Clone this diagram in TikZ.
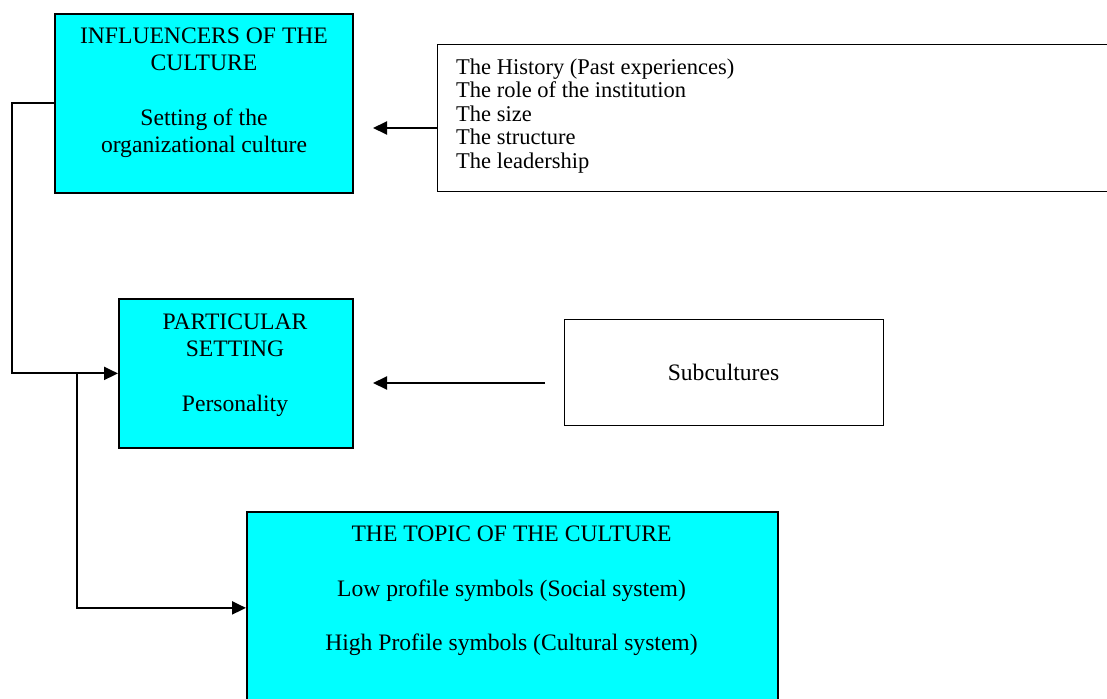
\documentclass[tikz,border=0pt]{standalone}
\usepackage{fontspec}
\setmainfont{Liberation Serif}
\usetikzlibrary{arrows.meta}
\definecolor{aqua}{HTML}{00FFFF}
\begin{document}
\begin{tikzpicture}[x=1pt,y=-1pt,
  cbox/.style={draw=black,line width=1.8pt,fill=aqua,inner sep=0pt,anchor=north west},
  wbox/.style={draw=black,line width=1.3pt,fill=white,inner sep=0pt,anchor=north west},
  bigtxt/.style={font=\fontsize{23.6}{27.3}\selectfont,align=center,inner sep=0pt},
  smalltxt/.style={font=\fontsize{22.5}{23.5}\selectfont,align=left,inner sep=0pt},
  conn/.style={line width=2pt,-{Triangle[length=14pt,width=13pt]}},
  plain/.style={line width=2pt}]
\useasboundingbox (0,0) rectangle (1107,698);
\begin{scope}
\clip (0,0) rectangle (1107,698);
% boxes
\node[cbox,minimum width=298pt,minimum height=179pt] (b1) at (54,13) {};
\node[wbox,minimum width=675pt,minimum height=147pt] (b3) at (437,44) {};
\node[cbox,minimum width=234pt,minimum height=149pt] (b2) at (118,298) {};
\node[wbox,minimum width=319pt,minimum height=106pt] (sub) at (564,319) {};
\node[cbox,minimum width=531pt,minimum height=192pt] (b4) at (246,511) {};
% texts
\node[bigtxt] (t1) at (204,93) {INFLUENCERS OF THE\\CULTURE\\[27.3pt]Setting of the\\organizational culture};
\node[bigtxt] (t2) at (235,365) {PARTICULAR\\SETTING\\[27.3pt]Personality};
\node[bigtxt] (t4) at (511.5,591) {THE TOPIC OF THE CULTURE\\[27.3pt]Low profile symbols (Social system)\\[27.3pt]High Profile symbols (Cultural system)};
\node[bigtxt] (tsub) at (723.5,372) {Subcultures};
\node[smalltxt,anchor=west] (t3) at (456,116) {The History (Past experiences)\\The role of the institution\\The size\\The structure\\The leadership};
% connectors
\coordinate (a1) at (373,128);
\draw[conn] (b3.west |- a1) -- (a1);
\coordinate (a2s) at (545,383);
\coordinate (a2) at (373,383);
\draw[conn] (a2s) -- (a2);
\draw[conn] (b1.west) -- ++(-42,0) |- (b2.west);
\coordinate (j) at (77,372.5);
\draw[plain] (j) -- (77,606.5);
\draw[conn] (j) |- (b4.west);
\end{scope}
\end{tikzpicture}
\end{document}
